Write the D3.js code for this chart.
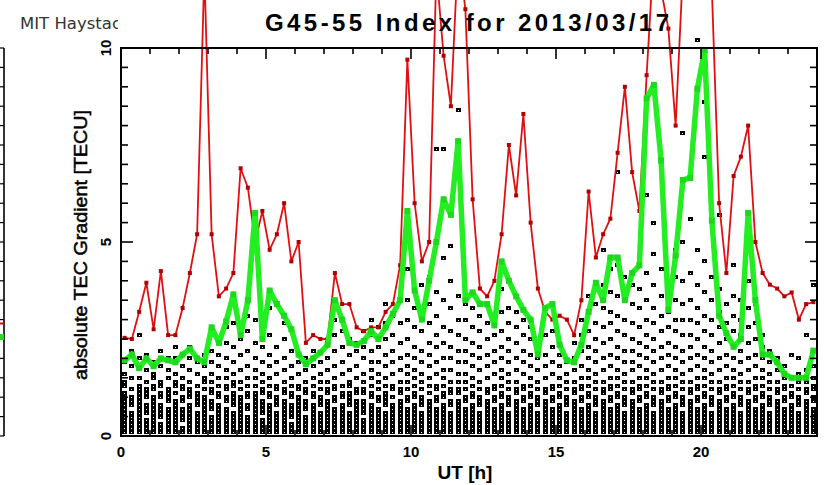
<!DOCTYPE html>
<html><head><meta charset="utf-8">
<script src="https://cdn.jsdelivr.net/npm/d3@7"></script>
<style>html,body{margin:0;padding:0;background:#fff;}svg{display:block;}</style>
</head><body>
<svg id="c" width="825" height="485"></svg>
<script>
// ---------- DATA ----------
const title = "G45-55 Index for 2013/03/17";
const credit = "MIT Haystack";
const xLabel = "UT [h]";
const yLabel = "absolute TEC Gradient [TECU]";
const xTickLabels = [0, 5, 10, 15, 20];
const yTickLabels = [0, 5, 10];
// bin-centre times (h), 15-minute bins
const times = [0.125,0.375,0.625,0.875,1.125,1.375,1.625,1.875,2.125,2.375,2.625,2.875,3.125,3.375,3.625,3.875,4.125,4.375,4.625,4.875,5.125,5.375,5.625,5.875,6.125,6.375,6.625,6.875,7.125,7.375,7.625,7.875,8.125,8.375,8.625,8.875,9.125,9.375,9.625,9.875,10.125,10.375,10.625,10.875,11.125,11.375,11.625,11.875,12.125,12.375,12.625,12.875,13.125,13.375,13.625,13.875,14.125,14.375,14.625,14.875,15.125,15.375,15.625,15.875,16.125,16.375,16.625,16.875,17.125,17.375,17.625,17.875,18.125,18.375,18.625,18.875,19.125,19.375,19.625,19.875,20.125,20.375,20.625,20.875,21.125,21.375,21.625,21.875,22.125,22.375,22.625,22.875,23.125,23.375,23.625,23.875];
// upper (red) curve
const redValues = [2.53,2.5,3.2,3.95,2.75,4.25,2.6,2.6,3.3,4.2,5.2,12.0,5.2,3.6,3.8,4.2,6.9,6.4,5.0,5.8,4.8,5.2,6.0,4.5,5.0,2.4,2.6,2.5,2.5,4.2,3.4,3.4,2.8,2.7,2.8,2.8,3.2,3.4,4.4,9.7,6.0,4.5,5.0,12.0,9.8,8.5,12.5,11.0,6.1,3.8,3.6,4.0,5.2,7.5,6.2,8.3,5.5,3.8,3.2,3.0,3.1,3.0,2.6,3.5,6.3,4.6,5.2,5.6,7.3,9.0,6.8,5.8,9.3,12.5,11.5,10.5,8.0,12.0,13.0,13.0,12.0,11.5,6.0,4.2,6.7,7.2,8.0,5.0,4.2,3.9,3.8,3.6,3.7,3.0,3.4,3.45];
// index (green) curve
const greenValues = [1.95,2.1,1.75,2.0,1.8,2.0,1.95,1.9,2.1,2.25,2.0,1.9,2.8,2.4,2.95,3.65,2.6,3.5,5.75,2.5,3.75,3.4,3.1,2.75,2.1,1.85,2.0,2.15,2.35,3.5,3.0,2.4,2.35,2.45,2.7,2.5,2.8,3.15,3.5,5.8,3.75,3.0,4.0,5.0,6.1,5.7,7.6,3.5,3.7,3.4,3.4,2.85,4.5,4.0,3.6,3.25,3.0,2.1,3.3,3.4,2.35,1.95,1.9,2.35,3.2,3.95,3.5,4.6,4.6,3.5,4.2,4.4,8.7,9.05,7.1,3.25,4.65,6.6,6.65,8.95,9.95,5.55,3.1,2.65,2.3,2.5,5.75,3.5,2.1,2.1,1.9,1.6,1.5,1.5,1.5,2.2];
// individual receiver-pair gradients per bin
const scatterBins = [
"0.1 0.2 0.3 0.4 0.5 0.6 0.7 0.8 0.9 1.0 1.1 1.3 1.4 1.6 1.9",
"0.1 0.2 0.3 0.4 0.5 0.6 0.8 0.9 1.0 1.2 1.5 1.8 2.2",
"0.1 0.2 0.3 0.4 0.5 0.6 0.7 0.8 0.9 1.0 1.1 1.2 1.3 1.5 2.0 2.6",
"0.1 0.2 0.3 0.4 0.6 0.7 0.8 1.0 1.1 1.2 1.4 1.7 2.1",
"0.1 0.2 0.3 0.4 0.5 0.6 0.7 0.8 0.9 1.0 1.2 1.3 1.5 1.6 1.9",
"0.1 0.2 0.3 0.5 0.6 0.7 0.8 1.0 1.1 1.3 1.4 1.8 2.2",
"0.1 0.2 0.3 0.4 0.5 0.6 0.7 0.9 1.0 1.1 1.2 1.5 1.7 2.0",
"0.1 0.2 0.3 0.4 0.5 0.6 0.7 0.8 0.9 1.1 1.3 1.4 1.6 2.0 2.3",
"0.1 0.2 0.4 0.5 0.6 0.7 0.9 1.0 1.2 1.3 1.5 1.8",
"0.1 0.2 0.3 0.4 0.5 0.6 0.7 0.8 1.0 1.1 1.2 1.4 1.7 2.0 2.3",
"0.1 0.2 0.3 0.4 0.5 0.6 0.8 0.9 1.0 1.1 1.3 1.6 1.9",
"0.1 0.2 0.3 0.4 0.5 0.6 0.7 0.8 0.9 1.0 1.2 1.4 1.5 1.8 2.1",
"0.1 0.2 0.3 0.4 0.5 0.7 0.8 0.9 1.1 1.2 1.4 1.6 1.9 2.2 2.6",
"0.1 0.2 0.3 0.4 0.5 0.6 0.7 0.8 1.0 1.1 1.3 1.5 1.8 2.1",
"0.1 0.2 0.3 0.4 0.5 0.6 0.7 0.9 1.0 1.2 1.3 1.5 1.7 2.0 2.4 2.8",
"0.1 0.2 0.3 0.4 0.5 0.6 0.8 0.9 1.0 1.1 1.3 1.4 1.6 1.9 2.3 2.9",
"0.1 0.2 0.3 0.4 0.5 0.6 0.7 0.8 0.9 1.0 1.2 1.4 1.7 2.1 2.5",
"0.1 0.2 0.3 0.4 0.5 0.7 0.8 1.0 1.1 1.3 1.5 1.8 2.2 2.7 3.1",
"0.1 0.2 0.3 0.4 0.5 0.6 0.7 0.8 0.9 1.0 1.1 1.3 1.5 1.7 2.0 2.4 3.0",
"0.1 0.2 0.3 0.4 0.6 0.7 0.8 0.9 1.1 1.2 1.4 1.6 1.9 2.3 2.7",
"0.1 0.2 0.3 0.4 0.5 0.6 0.7 0.8 1.0 1.1 1.3 1.5 1.8 2.1 2.6 3.3",
"0.1 0.2 0.3 0.4 0.5 0.6 0.8 0.9 1.0 1.2 1.3 1.6 1.9 2.3",
"0.1 0.2 0.3 0.4 0.5 0.6 0.7 0.8 0.9 1.1 1.2 1.4 1.7 2.0 2.5 2.9",
"0.1 0.2 0.3 0.5 0.6 0.7 0.8 1.0 1.1 1.3 1.5 1.8 2.2",
"0.1 0.2 0.3 0.4 0.5 0.6 0.7 0.8 0.9 1.0 1.2 1.3 1.6 1.9",
"0.1 0.2 0.3 0.4 0.5 0.7 0.8 0.9 1.1 1.2 1.4 1.7 2.0",
"0.1 0.2 0.3 0.4 0.5 0.6 0.7 0.8 1.0 1.1 1.3 1.5 1.8 2.2",
"0.1 0.2 0.3 0.4 0.5 0.6 0.8 0.9 1.0 1.2 1.4 1.6 1.9",
"0.1 0.2 0.3 0.4 0.5 0.6 0.7 0.8 0.9 1.1 1.2 1.4 1.7 2.0 2.4",
"0.1 0.2 0.3 0.4 0.5 0.6 0.7 0.9 1.0 1.2 1.3 1.5 1.8 2.2 2.6 3.0",
"0.1 0.2 0.3 0.4 0.5 0.6 0.7 0.8 1.0 1.1 1.3 1.6 1.9 2.3 2.7",
"0.1 0.2 0.3 0.4 0.5 0.6 0.8 0.9 1.0 1.1 1.3 1.4 1.7 2.1 2.5",
"0.1 0.2 0.3 0.4 0.5 0.6 0.7 0.8 0.9 1.1 1.2 1.5 1.8 2.2 2.4",
"0.1 0.2 0.3 0.4 0.6 0.7 0.8 0.9 1.1 1.2 1.4 1.6 2.0 2.3 2.7",
"0.1 0.2 0.3 0.4 0.5 0.6 0.7 0.8 1.0 1.1 1.3 1.5 1.7 1.9 2.2 2.6 3.0",
"0.1 0.2 0.3 0.4 0.5 0.6 0.7 0.9 1.0 1.2 1.4 1.6 1.9 2.3 2.8",
"0.1 0.2 0.3 0.4 0.5 0.6 0.8 0.9 1.0 1.1 1.3 1.5 1.8 2.1 2.5 2.9 3.4",
"0.1 0.2 0.3 0.4 0.5 0.6 0.7 0.8 1.0 1.2 1.3 1.6 1.9 2.2 2.6 3.1",
"0.1 0.2 0.3 0.4 0.5 0.6 0.7 0.8 0.9 1.1 1.2 1.4 1.7 2.0 2.4 2.9 3.6",
"0.1 0.2 0.3 0.4 0.5 0.6 0.7 0.9 1.0 1.2 1.4 1.6 1.8 2.1 2.5 3.0 3.5 4.3",
"0.1 0.2 0.3 0.4 0.5 0.6 0.7 0.8 1.0 1.1 1.3 1.5 1.7 2.0 2.3 2.8 3.3",
"0.1 0.2 0.3 0.4 0.5 0.6 0.8 0.9 1.0 1.2 1.4 1.6 1.9 2.2 2.7 3.2 3.9",
"0.1 0.2 0.3 0.4 0.5 0.6 0.7 0.8 0.9 1.1 1.3 1.5 1.8 2.1 2.4 2.9 3.4 4.1",
"0.1 0.2 0.3 0.4 0.5 0.6 0.7 0.9 1.0 1.2 1.3 1.6 1.9 2.3 2.6 3.1 3.7 7.4",
"0.1 0.2 0.3 0.4 0.5 0.6 0.7 0.8 1.0 1.1 1.3 1.5 1.7 2.0 2.4 2.8 3.5 4.6 7.4",
"0.1 0.2 0.3 0.4 0.5 0.6 0.8 0.9 1.1 1.2 1.4 1.7 2.0 2.3 2.7 3.3 4.0 4.9",
"0.1 0.2 0.3 0.4 0.5 0.6 0.7 0.8 0.9 1.1 1.2 1.4 1.6 1.9 2.2 2.6 3.0 3.6 8.4",
"0.1 0.2 0.3 0.4 0.5 0.6 0.7 0.9 1.0 1.2 1.4 1.6 1.9 2.2 2.5 3.0 3.4",
"0.1 0.2 0.3 0.4 0.5 0.6 0.7 0.8 1.0 1.1 1.3 1.5 1.8 2.1 2.4 2.8 3.3",
"0.1 0.2 0.3 0.4 0.5 0.6 0.8 0.9 1.0 1.2 1.4 1.7 2.0 2.3 2.7 3.1",
"0.1 0.2 0.3 0.4 0.5 0.6 0.7 0.8 0.9 1.1 1.2 1.5 1.8 2.1 2.5 2.9 3.4",
"0.1 0.2 0.3 0.4 0.5 0.6 0.7 0.9 1.0 1.2 1.3 1.6 1.9 2.2 2.6 3.0",
"0.1 0.2 0.3 0.4 0.5 0.6 0.7 0.8 1.0 1.1 1.3 1.5 1.7 2.0 2.3 2.7 3.2 3.8",
"0.1 0.2 0.3 0.4 0.5 0.6 0.8 0.9 1.0 1.2 1.4 1.6 1.9 2.2 2.5 2.9 3.3",
"0.1 0.2 0.3 0.4 0.5 0.6 0.7 0.8 0.9 1.1 1.2 1.4 1.7 2.0 2.4 2.8 3.2",
"0.1 0.2 0.3 0.4 0.5 0.6 0.7 0.9 1.0 1.2 1.3 1.6 1.9 2.2 2.6 3.0",
"0.1 0.2 0.3 0.4 0.5 0.6 0.7 0.8 1.0 1.1 1.3 1.5 1.8 2.1 2.5 2.8",
"0.1 0.2 0.3 0.4 0.5 0.6 0.8 0.9 1.0 1.2 1.4 1.7 2.0 2.3",
"0.1 0.2 0.3 0.4 0.5 0.6 0.7 0.8 0.9 1.1 1.2 1.5 1.8 2.1 2.6",
"0.1 0.2 0.3 0.4 0.5 0.6 0.7 0.9 1.0 1.2 1.3 1.6 1.9 2.3 2.7",
"0.1 0.2 0.3 0.4 0.5 0.6 0.7 0.8 1.0 1.1 1.3 1.5 1.8 2.1",
"0.1 0.2 0.3 0.4 0.5 0.6 0.8 0.9 1.0 1.2 1.4 1.6 1.9",
"0.1 0.2 0.3 0.4 0.5 0.6 0.7 0.8 0.9 1.1 1.2 1.4 1.7 2.0 2.4",
"0.1 0.2 0.3 0.4 0.5 0.6 0.7 0.9 1.0 1.2 1.3 1.5 1.8 2.2 2.6 3.0",
"0.1 0.2 0.3 0.4 0.5 0.6 0.7 0.8 1.0 1.1 1.3 1.5 1.7 2.0 2.3 2.7 3.2 3.6",
"0.1 0.2 0.3 0.4 0.5 0.6 0.8 0.9 1.0 1.2 1.4 1.6 1.9 2.2 2.5 2.9 3.4",
"0.1 0.2 0.3 0.4 0.5 0.6 0.7 0.8 0.9 1.1 1.2 1.4 1.7 2.0 2.4 2.8 3.3 3.9 4.8",
"0.1 0.2 0.3 0.4 0.5 0.6 0.7 0.9 1.0 1.2 1.3 1.5 1.8 2.1 2.5 2.9 3.2 3.7 4.3",
"0.1 0.2 0.3 0.4 0.5 0.6 0.7 0.8 1.0 1.1 1.3 1.5 1.7 2.0 2.3 2.7 3.1 3.6 4.4 6.8",
"0.1 0.2 0.3 0.4 0.5 0.6 0.8 0.9 1.0 1.2 1.4 1.6 1.9 2.2 2.6 3.0 3.5 4.1",
"0.1 0.2 0.3 0.4 0.5 0.6 0.7 0.8 0.9 1.1 1.2 1.4 1.7 1.9 2.2 2.5 2.9 3.4 3.9",
"0.1 0.2 0.3 0.4 0.5 0.6 0.7 0.9 1.0 1.2 1.3 1.5 1.8 2.1 2.4 2.8 3.3 3.8 4.6",
"0.1 0.2 0.3 0.4 0.5 0.6 0.7 0.8 1.0 1.1 1.3 1.5 1.7 2.0 2.3 2.6 3.0 3.5 4.2 6.2",
"0.1 0.2 0.3 0.4 0.5 0.6 0.8 0.9 1.0 1.2 1.4 1.6 1.9 2.2 2.5 2.9 3.3 3.9 4.7 5.5",
"0.1 0.2 0.3 0.4 0.5 0.6 0.7 0.8 0.9 1.1 1.2 1.4 1.7 2.0 2.3 2.7 3.1 3.6 4.3",
"0.1 0.2 0.3 0.4 0.5 0.6 0.7 0.9 1.0 1.2 1.3 1.5 1.8 2.1 2.4 2.8 3.2 3.7",
"0.1 0.2 0.3 0.4 0.5 0.6 0.7 0.8 1.0 1.1 1.3 1.5 1.7 2.0 2.3 2.7 3.0 3.5 4.1 4.8",
"0.1 0.2 0.3 0.4 0.5 0.6 0.8 0.9 1.0 1.2 1.4 1.6 1.9 2.2 2.6 3.0 3.4 4.0 5.0 7.8",
"0.1 0.2 0.3 0.4 0.5 0.6 0.7 0.8 0.9 1.1 1.2 1.4 1.7 2.0 2.3 2.6 3.0 3.5 4.2 5.6",
"0.1 0.2 0.3 0.4 0.5 0.6 0.7 0.9 1.0 1.2 1.3 1.5 1.8 2.1 2.5 2.9 3.3 3.9 4.8 10.2",
"0.1 0.2 0.3 0.4 0.5 0.6 0.7 0.8 1.0 1.1 1.3 1.5 1.7 2.0 2.3 2.7 3.1 3.7 4.5 7.2 8.6",
"0.1 0.2 0.3 0.4 0.5 0.6 0.8 0.9 1.0 1.2 1.4 1.6 1.9 2.2 2.6 3.0 3.5 4.1",
"0.1 0.2 0.3 0.4 0.5 0.6 0.7 0.8 0.9 1.1 1.2 1.4 1.7 2.0 2.4 2.8 3.2 3.8 5.7",
"0.1 0.2 0.3 0.4 0.5 0.6 0.7 0.9 1.0 1.2 1.3 1.5 1.8 2.1 2.5 2.9 3.4",
"0.1 0.2 0.3 0.4 0.5 0.6 0.7 0.8 1.0 1.1 1.3 1.5 1.7 2.0 2.3 2.7 3.1 3.6 4.4",
"0.1 0.2 0.3 0.4 0.5 0.6 0.8 0.9 1.0 1.2 1.4 1.6 1.9 2.2 2.6 3.0 3.5",
"0.1 0.2 0.3 0.4 0.5 0.6 0.7 0.8 0.9 1.1 1.2 1.4 1.7 2.0 2.4 2.8 3.3 4.0 5.4",
"0.1 0.2 0.3 0.4 0.5 0.6 0.7 0.9 1.0 1.2 1.3 1.5 1.8 2.1 2.5 2.9 3.4",
"0.1 0.2 0.3 0.4 0.5 0.6 0.7 0.8 1.0 1.1 1.3 1.5 1.7 2.0 2.3 2.6",
"0.1 0.2 0.3 0.4 0.5 0.6 0.8 0.9 1.0 1.2 1.4 1.6 1.9 2.2",
"0.1 0.2 0.3 0.4 0.5 0.6 0.7 0.8 0.9 1.1 1.2 1.4 1.7 2.0",
"0.1 0.2 0.3 0.4 0.5 0.6 0.7 0.9 1.0 1.2 1.3 1.5 1.8",
"0.1 0.2 0.3 0.4 0.5 0.6 0.7 0.8 1.0 1.1 1.3 1.5 2.1",
"0.1 0.2 0.3 0.4 0.5 0.6 0.8 0.9 1.0 1.2 1.4 1.6 2.0",
"0.1 0.2 0.3 0.4 0.5 0.6 0.7 0.8 0.9 1.1 1.2 1.4 1.7 2.6",
"0.1 0.2 0.3 0.4 0.5 0.6 0.7 0.9 1.0 1.2 1.3 1.5 1.8 2.2 3.9"
];
// neighbouring (cut-off) panel, right edge values
const leftPanelRed = 2.9;
const leftPanelGreen = 2.55;

// ---------- DRAW ----------
const svg = d3.select("#c");
const x = d3.scaleLinear().domain([0, 24]).range([121, 817]);
const y = d3.scaleLinear().domain([0, 10]).range([436, 48]);
const bold = "'Liberation Sans', Arial, Helvetica, sans-serif";

// partial neighbouring panel at far left
const lp = svg.append("g");
lp.append("line").attr("x1", 4).attr("x2", 4).attr("y1", y(10)).attr("y2", y(0)).attr("stroke", "#000").attr("stroke-width", 1.6);
lp.selectAll("line.t").data(d3.range(0, 10.01, 0.5)).join("line").attr("class", "t")
  .attr("x1", 0).attr("x2", 4).attr("y1", d => y(d)).attr("y2", d => y(d)).attr("stroke", "#000").attr("stroke-width", 1.2);
lp.append("line").attr("x1", 0).attr("x2", 4).attr("y1", y(leftPanelRed)).attr("y2", y(leftPanelRed)).attr("stroke", "#d00").attr("stroke-width", 2);
lp.append("line").attr("x1", 0).attr("x2", 4).attr("y1", y(leftPanelGreen)).attr("y2", y(leftPanelGreen)).attr("stroke", "#22dd22").attr("stroke-width", 6);

// scatter: black squares with a tiny white centre
const pts = [];
scatterBins.forEach((s, i) => s.split(" ").forEach(v => pts.push([times[i], +v])));
const sg = svg.append("g").attr("shape-rendering", "crispEdges");
sg.selectAll("rect.o").data(pts).join("rect").attr("class", "o")
  .attr("x", d => Math.round(x(d[0]) - 2.5)).attr("y", d => Math.round(y(d[1]) - 2))
  .attr("width", 5).attr("height", 4).attr("fill", "#000");
sg.selectAll("rect.i").data(pts).join("rect").attr("class", "i")
  .attr("x", d => Math.round(x(d[0]) - 2.5) + 2).attr("y", d => Math.round(y(d[1]) - 2) + 1.5)
  .attr("width", 1).attr("height", 1).attr("fill", "#fff");

// red line
const lineR = d3.line().x((d, i) => x(times[i])).y(d => y(d));
svg.append("path").datum(redValues).attr("d", lineR).attr("fill", "none").attr("stroke", "#e01010").attr("stroke-width", 1.8);
svg.append("g").selectAll("rect").data(redValues).join("rect")
  .attr("x", (d, i) => x(times[i]) - 2).attr("y", d => y(d) - 2).attr("width", 4).attr("height", 4)
  .attr("fill", "#b00000");

// green line
svg.append("path").datum(greenValues).attr("d", lineR).attr("fill", "none").attr("stroke", "#22ee22").attr("stroke-width", 5.5).attr("stroke-linejoin", "round");
svg.append("g").selectAll("rect").data(greenValues).join("rect")
  .attr("x", (d, i) => x(times[i]) - 3).attr("y", d => y(d) - 3).attr("width", 6).attr("height", 6)
  .attr("fill", "#1ed81e");

// frame + axes
const ax = svg.append("g").attr("stroke", "#000");
ax.append("rect").attr("x", x(0)).attr("y", y(10)).attr("width", x(24) - x(0)).attr("height", y(0) - y(10))
  .attr("fill", "none").attr("stroke-width", 2);
const hours = d3.range(0, 24.01, 1);
const halves = d3.range(0, 10.01, 0.5);
ax.selectAll("line.xb").data(hours).join("line").attr("class", "xb")
  .attr("x1", d => x(d)).attr("x2", d => x(d)).attr("y1", y(0)).attr("y2", d => y(0) - (d % 5 === 0 ? 11 : 6)).attr("stroke-width", 1.6);
ax.selectAll("line.xt").data(hours).join("line").attr("class", "xt")
  .attr("x1", d => x(d)).attr("x2", d => x(d)).attr("y1", y(10)).attr("y2", d => y(10) + (d % 5 === 0 ? 11 : 6)).attr("stroke-width", 1.6);
ax.selectAll("line.yl").data(halves).join("line").attr("class", "yl")
  .attr("x1", x(0)).attr("x2", d => x(0) + (d % 5 === 0 ? 12 : 7)).attr("y1", d => y(d)).attr("y2", d => y(d)).attr("stroke-width", 1.6);
ax.selectAll("line.yr").data(halves).join("line").attr("class", "yr")
  .attr("x1", x(24)).attr("x2", d => x(24) - (d % 5 === 0 ? 12 : 7)).attr("y1", d => y(d)).attr("y2", d => y(d)).attr("stroke-width", 1.6);

// tick labels
svg.append("g").selectAll("text").data(xTickLabels).join("text")
  .attr("x", d => x(d)).attr("y", 457).attr("text-anchor", "middle")
  .attr("font-family", bold).attr("font-weight", "bold").attr("font-size", 15).text(d => d);
svg.append("g").selectAll("text").data(yTickLabels).join("text")
  .attr("transform", d => `translate(111,${y(d)}) rotate(-90)`).attr("text-anchor", "middle")
  .attr("font-family", bold).attr("font-weight", "bold").attr("font-size", 15).text(d => d);

// axis titles
svg.append("text").attr("x", 465).attr("y", 479).attr("text-anchor", "middle")
  .attr("font-family", bold).attr("font-weight", "bold").attr("font-size", 19).text(xLabel);
svg.append("text").attr("transform", "translate(87,245) rotate(-90)").attr("text-anchor", "middle")
  .attr("font-family", bold).attr("font-size", 19).attr("stroke", "#000").attr("stroke-width", 0.5)
  .attr("textLength", 270).attr("lengthAdjust", "spacingAndGlyphs").text(yLabel);

// title
svg.append("text").attr("x", 467).attr("y", 31).attr("text-anchor", "middle")
  .attr("font-family", bold).attr("font-weight", "bold").attr("font-size", 24)
  .attr("textLength", 404).attr("lengthAdjust", "spacing").text(title);

// credit (cut by the neighbouring panel edge)
svg.append("clipPath").attr("id", "cc").append("rect").attr("x", 0).attr("y", 0).attr("width", 118).attr("height", 45);
svg.append("text").attr("x", 20).attr("y", 29).attr("clip-path", "url(#cc)")
  .attr("font-family", "'DejaVu Sans', sans-serif").attr("font-size", 16.5).attr("fill", "#333").text(credit);
</script>
</body></html>
